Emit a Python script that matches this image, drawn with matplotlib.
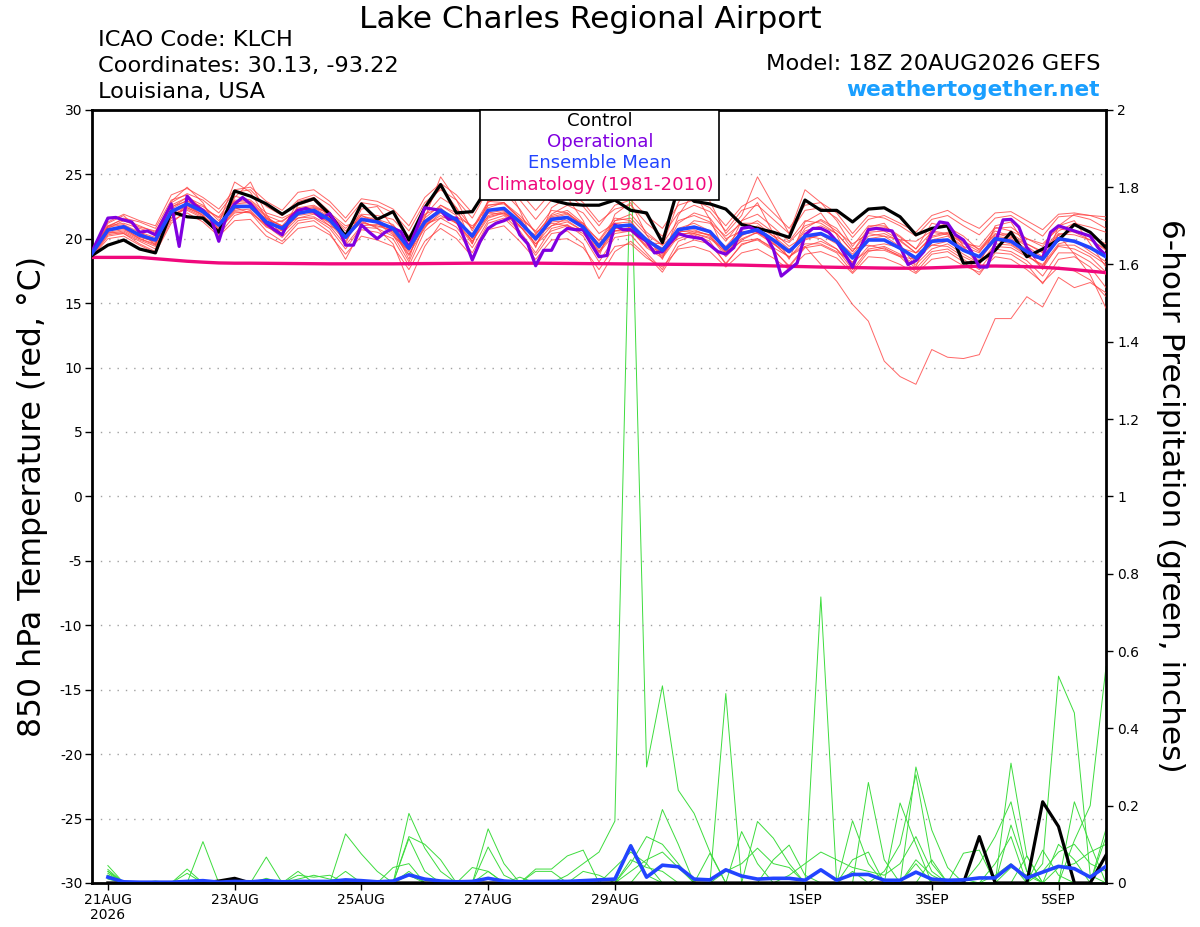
import numpy as np
import matplotlib
matplotlib.use("Agg")
import matplotlib.pyplot as plt
from matplotlib.patches import Rectangle

plt.rcParams['font.family'] = ['DejaVu Sans']

# ---------------- data ----------------
# 6-hourly steps from 18Z 20AUG2026 (step 0) to 18Z 05SEP2026 (step 64)
steps6 = np.arange(65)
steps3 = np.arange(129) / 2.0       # operational run, 3-hourly
psteps = np.arange(1, 65)           # 6-hour precipitation, ending at steps 1..64

control_t = [18.7, 19.5, 19.9, 19.2, 18.9, 22.1, 21.7, 21.6, 20.5, 23.7, 23.3, 22.7, 21.9, 22.7, 23.1, 21.9,
             20.2, 22.7, 21.5, 22.1, 19.9, 22.4, 24.2, 22.0, 22.1, 24.0, 24.5, 23.5, 23.6, 23.0, 22.7, 22.6,
             22.6, 23.0, 22.2, 22.0, 19.7, 24.0, 22.9, 22.7, 22.3, 21.1, 20.8, 20.5, 20.1, 23.0, 22.2, 22.2,
             21.3, 22.3, 22.4, 21.7, 20.3, 20.8, 21.0, 18.1, 18.2, 19.1, 20.5, 18.6, 19.2, 19.9, 21.1, 20.5,
             19.3]

mean_t = [18.86, 20.67, 20.93, 20.28, 19.9, 22.1, 22.7, 22.1, 21.06, 22.5, 22.5, 21.3, 20.8, 21.97, 22.2, 21.45,
          20.1, 21.5, 21.3, 20.8, 19.25, 21.3, 22.2, 21.45, 20.2, 22.2, 22.35, 21.3, 20.0, 21.5, 21.65, 20.9,
          19.4, 20.95, 21.06, 19.9, 19.1, 20.7, 20.9, 20.55, 19.2, 20.4, 20.7, 19.9, 19.0, 20.2, 20.4, 19.8,
          18.5, 19.9, 19.9, 19.26, 18.5, 19.8, 19.9, 19.1, 18.6, 20.0, 19.8, 19.0, 18.4, 20.0, 19.8, 19.3,
          18.6]

oper_t = [19.0, 20.3, 21.6, 21.65, 21.45, 21.3, 20.5, 20.6, 20.3, 21.5, 22.7, 19.4, 23.3, 22.6, 22.2, 21.6,
          19.8, 21.8, 22.7, 23.2, 22.7, 21.95, 21.2, 20.7, 20.3, 21.6, 22.2, 22.35, 22.1, 21.6, 21.95, 21.0,
          19.5, 19.5, 21.07, 20.5, 20.0, 20.5, 20.8, 20.55, 19.3, 20.8, 22.4, 22.3, 22.2, 21.5, 21.6, 20.0,
          18.35, 19.8, 20.8, 21.2, 21.4, 21.7, 20.3, 19.6, 17.9, 19.1, 19.1, 20.3, 20.8, 20.7, 20.7, 19.6,
          18.6, 18.7, 21.07, 20.7, 20.7, 20.2, 19.8, 18.9, 19.0, 19.7, 20.4, 20.2, 20.1, 20.0, 19.5, 19.0,
          18.8, 19.3, 20.8, 20.9, 20.6, 20.3, 19.2, 17.1, 17.6, 18.1, 20.3, 20.8, 20.8, 20.5, 19.8, 18.8,
          17.8, 19.3, 20.7, 20.8, 20.7, 20.6, 19.4, 18.0, 18.3, 19.0, 20.4, 21.3, 21.2, 20.3, 19.9, 19.0,
          17.8, 17.8, 19.65, 21.46, 21.5, 20.9, 19.3, 18.6, 18.5, 20.5, 21.0, 20.8, 20.6, 20.4, 20.2, 19.3,
          18.7]

clim_t = [18.55, 18.55, 18.55, 18.55, 18.45, 18.35, 18.25, 18.18, 18.12, 18.1, 18.1, 18.09, 18.08, 18.07, 18.06, 18.05,
          18.05, 18.05, 18.05, 18.05, 18.06, 18.07, 18.08, 18.09, 18.1, 18.1, 18.1, 18.1, 18.1, 18.09, 18.08, 18.07,
          18.06, 18.05, 18.04, 18.03, 18.02, 18.01, 18.0, 17.99, 17.97, 17.95, 17.92, 17.89, 17.86, 17.83, 17.8, 17.78,
          17.76, 17.74, 17.72, 17.71, 17.71, 17.74, 17.78, 17.83, 17.87, 17.88, 17.86, 17.83, 17.78, 17.7, 17.6, 17.48,
          17.37]

members_t = [
    [19.0, 21.0, 21.5, 21.0, 20.5, 22.8, 23.5, 23.0, 22.0, 23.6, 23.8, 22.5, 21.8, 23.0, 23.4, 22.6,
     21.3, 22.8, 22.6, 22.0, 20.6, 22.8, 23.8, 23.0, 21.6, 23.8, 24.2, 23.0, 21.5, 23.0, 23.4, 22.5,
     21.0, 22.6, 23.0, 21.8, 20.8, 22.6, 23.0, 22.4, 21.0, 22.5, 23.2, 22.0, 20.8, 22.6, 22.8, 22.0,
     20.4, 21.8, 21.6, 21.0, 20.2, 21.5, 21.8, 21.0, 20.3, 21.6, 21.8, 21.0, 20.2, 21.7, 21.8, 21.5, 20.8],
    [18.6, 20.2, 20.4, 19.6, 19.0, 21.4, 22.0, 21.3, 20.2, 21.4, 21.5, 20.2, 19.6, 20.8, 21.0, 20.3,
     18.8, 20.2, 19.9, 19.4, 17.6, 19.8, 20.8, 20.0, 18.6, 20.7, 21.0, 19.8, 18.4, 19.9, 20.0, 19.3,
     17.6, 19.4, 19.6, 18.5, 17.8, 19.2, 19.4, 19.0, 17.8, 18.9, 19.2, 18.5, 17.6, 18.8, 19.0, 18.5,
     17.3, 18.6, 18.5, 18.0, 17.3, 18.4, 18.6, 17.9, 17.4, 18.6, 18.4, 17.6, 16.6, 17.8, 17.5, 16.8, 15.5],
    [18.8, 21.2, 21.8, 20.6, 19.5, 22.9, 24.0, 22.8, 20.6, 23.2, 24.4, 21.9, 20.2, 22.6, 23.0, 21.6,
     19.6, 22.3, 22.5, 20.9, 18.4, 22.2, 24.0, 22.4, 19.6, 23.0, 24.6, 22.2, 19.3, 22.4, 23.2, 21.4,
     18.6, 21.9, 22.8, 20.3, 18.4, 21.8, 23.6, 21.5, 18.8, 21.4, 22.8, 20.4, 18.4, 21.3, 22.0, 20.3,
     17.8, 20.9, 21.2, 19.6, 17.8, 20.8, 21.2, 19.4, 17.9, 21.0, 21.3, 19.3, 17.6, 21.0, 21.4, 19.6, 17.8],
    [18.9, 20.5, 20.7, 20.1, 19.8, 21.8, 22.4, 21.9, 21.2, 22.2, 22.3, 21.6, 21.0, 21.6, 21.9, 21.3,
     20.3, 21.2, 21.0, 20.6, 19.8, 21.0, 21.8, 21.2, 20.4, 21.7, 22.0, 21.2, 20.2, 21.0, 21.3, 20.6,
     19.6, 20.6, 20.8, 19.8, 19.3, 20.4, 20.4, 20.0, 19.0, 19.8, 20.0, 19.3, 18.6, 19.4, 18.0, 16.7,
     14.9, 13.6, 10.5, 9.3, 8.7, 11.4, 10.8, 10.7, 11.0, 13.8, 13.8, 15.5, 14.7, 17.0, 16.2, 16.6, 15.8],
    [19.1, 21.0, 21.2, 20.8, 20.4, 22.5, 22.9, 22.5, 21.6, 22.9, 22.8, 21.5, 21.0, 22.4, 22.6, 21.9,
     20.6, 21.8, 21.4, 20.6, 18.8, 20.8, 22.6, 22.0, 20.8, 22.9, 22.8, 21.6, 20.6, 22.2, 22.0, 21.0,
     19.9, 21.6, 21.4, 19.6, 18.6, 20.4, 21.4, 21.2, 19.8, 21.4, 21.9, 20.9, 19.8, 21.4, 21.2, 20.4,
     19.0, 20.8, 20.9, 20.1, 19.2, 20.5, 20.3, 19.4, 18.9, 20.8, 20.9, 20.0, 19.4, 21.0, 21.9, 21.8, 21.7],
    [18.7, 20.4, 20.6, 20.0, 19.6, 21.9, 22.3, 21.7, 20.7, 22.0, 22.1, 20.9, 20.4, 21.6, 21.7, 21.0,
     19.5, 21.0, 21.1, 20.9, 19.6, 21.8, 23.2, 22.4, 20.8, 22.6, 22.8, 21.8, 20.5, 21.2, 21.0, 20.4,
     18.9, 20.4, 20.6, 19.5, 18.9, 21.2, 22.0, 21.6, 20.0, 20.6, 20.4, 19.6, 18.9, 20.8, 21.5, 20.8,
     19.2, 19.5, 19.2, 18.7, 18.0, 19.2, 19.6, 18.8, 18.1, 19.4, 19.3, 18.6, 18.0, 19.6, 19.9, 19.0, 18.2],
    [18.8, 20.9, 21.1, 20.5, 20.1, 22.4, 23.2, 22.6, 21.4, 23.0, 22.9, 21.8, 21.3, 22.3, 22.5, 21.9,
     20.8, 21.9, 21.8, 21.5, 20.2, 21.9, 22.4, 21.3, 19.8, 21.6, 22.0, 21.0, 19.6, 21.0, 21.6, 21.2,
     19.8, 21.4, 21.6, 20.3, 19.5, 20.6, 20.5, 20.3, 19.4, 20.8, 21.4, 20.5, 19.4, 20.2, 20.0, 19.2,
     18.0, 19.4, 19.6, 19.3, 18.9, 20.2, 20.5, 19.8, 19.2, 20.6, 20.2, 19.4, 18.6, 20.3, 20.6, 20.2, 19.6],
    [18.9, 20.6, 20.8, 20.2, 19.7, 22.3, 23.0, 22.0, 20.9, 22.6, 22.6, 21.0, 20.6, 21.8, 22.0, 21.2,
     19.8, 21.6, 21.6, 20.4, 18.7, 21.4, 22.3, 21.2, 19.6, 22.4, 22.8, 21.5, 19.8, 21.8, 22.2, 21.2,
     19.0, 20.8, 20.7, 19.3, 18.5, 20.2, 20.6, 20.3, 18.8, 20.2, 21.0, 20.2, 19.2, 19.9, 20.3, 19.9,
     18.8, 20.2, 20.4, 19.8, 18.9, 19.5, 19.4, 18.6, 18.0, 19.6, 19.5, 18.7, 17.9, 19.4, 19.2, 18.6, 17.4],
    [19.0, 20.8, 21.4, 20.9, 20.6, 22.6, 23.2, 22.3, 21.2, 24.4, 23.6, 21.6, 20.6, 22.9, 23.2, 22.1,
     20.0, 21.6, 21.2, 20.5, 19.0, 21.6, 24.8, 23.0, 20.6, 22.8, 23.6, 22.3, 20.4, 21.7, 22.0, 21.1,
     19.2, 21.4, 21.9, 20.5, 19.5, 22.8, 24.6, 22.9, 20.4, 21.8, 24.8, 22.6, 20.4, 23.8, 22.8, 21.4,
     19.4, 21.0, 21.0, 20.2, 19.2, 21.2, 20.9, 20.2, 19.1, 20.4, 20.1, 19.6, 19.0, 20.6, 21.2, 20.9, 20.5],
    [18.7, 20.3, 20.5, 19.9, 19.4, 21.6, 22.4, 21.8, 20.8, 22.1, 22.0, 20.6, 19.8, 21.2, 21.4, 20.5,
     18.4, 20.7, 20.5, 20.0, 17.9, 20.6, 21.6, 20.9, 19.3, 21.4, 21.8, 20.6, 18.9, 20.8, 21.1, 20.2,
     18.2, 20.1, 20.3, 18.9, 17.6, 19.8, 20.3, 19.8, 18.0, 19.6, 19.9, 19.1, 17.9, 19.4, 19.8, 19.2,
     17.6, 19.2, 19.4, 18.8, 17.7, 19.0, 19.2, 18.4, 17.6, 19.2, 19.0, 18.3, 17.1, 18.9, 18.9, 18.2, 17.2],
    [18.8, 20.9, 21.6, 21.3, 20.8, 23.0, 23.4, 22.2, 21.0, 22.4, 22.0, 21.1, 21.4, 22.2, 22.0, 21.0,
     20.4, 21.3, 20.9, 21.0, 20.0, 21.1, 21.6, 21.7, 21.0, 22.0, 21.9, 20.9, 20.3, 21.9, 22.6, 22.0,
     20.4, 21.2, 21.0, 19.7, 19.6, 21.4, 21.8, 21.3, 20.2, 21.2, 21.2, 20.2, 19.7, 21.0, 21.4, 20.6,
     19.6, 20.4, 20.2, 19.9, 19.8, 20.6, 20.4, 19.6, 19.4, 20.9, 20.6, 20.0, 19.6, 20.8, 20.5, 19.9, 19.2],
    [18.9, 20.5, 20.4, 19.8, 19.2, 21.6, 22.6, 22.3, 21.7, 23.3, 23.0, 22.0, 21.6, 22.2, 22.4, 22.0,
     21.0, 21.4, 20.8, 20.2, 19.1, 20.9, 22.0, 21.6, 20.0, 22.0, 22.2, 21.0, 19.6, 20.6, 21.0, 20.6,
     19.4, 20.6, 20.9, 20.0, 19.2, 20.0, 20.4, 20.1, 19.1, 20.0, 20.5, 19.6, 18.6, 19.6, 19.6, 19.0,
     18.2, 19.1, 19.1, 18.6, 18.4, 19.5, 19.8, 19.2, 18.6, 20.2, 20.0, 19.2, 18.5, 20.3, 18.8, 17.2, 14.6],
    [18.6, 20.0, 20.2, 19.5, 18.9, 21.2, 22.2, 21.6, 20.3, 21.8, 22.2, 21.0, 20.1, 21.4, 21.6, 20.8,
     19.2, 20.9, 20.8, 19.6, 16.6, 19.4, 21.2, 20.6, 18.9, 21.2, 21.6, 20.4, 18.7, 20.4, 20.6, 19.6,
     16.9, 19.0, 19.8, 18.7, 17.4, 19.4, 19.9, 19.6, 18.1, 19.5, 20.0, 19.2, 17.8, 19.3, 19.5, 18.9,
     17.4, 19.0, 19.3, 18.6, 17.4, 18.8, 19.0, 18.2, 17.2, 18.9, 18.8, 18.0, 16.5, 18.4, 18.6, 17.8, 16.2],
    [19.1, 21.3, 21.9, 21.4, 21.0, 23.4, 23.9, 23.2, 22.3, 23.8, 24.0, 22.9, 22.2, 23.6, 23.8, 22.9,
     21.6, 23.1, 22.9, 22.3, 21.0, 23.2, 24.3, 23.4, 22.0, 24.4, 24.9, 23.6, 22.2, 23.6, 23.8, 22.8,
     21.3, 22.3, 22.6, 21.2, 20.2, 22.0, 22.6, 22.1, 20.6, 22.2, 22.6, 21.5, 20.4, 22.2, 22.4, 21.6,
     20.1, 21.5, 21.8, 21.2, 20.5, 21.8, 22.2, 21.4, 20.8, 22.0, 22.1, 21.4, 20.7, 21.9, 22.0, 21.8, 21.4],
    [18.8, 20.6, 21.0, 20.4, 20.0, 22.0, 22.5, 22.0, 21.2, 22.7, 22.8, 21.7, 20.9, 22.2, 22.4, 21.7,
     20.3, 21.4, 21.5, 21.1, 19.4, 21.6, 22.6, 21.8, 20.0, 22.6, 22.7, 21.6, 19.9, 21.3, 21.4, 20.6,
     19.0, 20.6, 20.6, 19.4, 18.7, 20.5, 20.7, 20.2, 18.6, 19.9, 20.5, 19.8, 18.9, 20.6, 21.0, 20.4,
     19.0, 20.5, 20.6, 19.9, 18.9, 20.1, 20.4, 19.7, 19.0, 20.3, 20.4, 19.6, 18.9, 20.4, 20.3, 19.9, 19.1],
    [18.9, 20.8, 20.8, 20.0, 19.5, 22.2, 22.6, 21.8, 20.6, 22.3, 22.6, 21.2, 20.4, 21.9, 22.3, 21.6,
     20.2, 21.8, 21.2, 20.3, 18.2, 21.1, 22.1, 21.2, 19.8, 21.8, 22.1, 21.0, 19.4, 21.6, 21.9, 21.0,
     19.6, 21.2, 21.3, 20.0, 18.8, 20.8, 21.2, 20.6, 19.0, 20.3, 20.6, 19.7, 18.5, 20.0, 20.3, 19.6,
     18.1, 20.0, 20.2, 19.4, 18.2, 19.9, 20.2, 19.3, 18.3, 19.9, 19.6, 18.8, 17.7, 19.5, 19.5, 18.8, 18.0],
]

control_p = [0, 0, 0, 0, 0, 0, 0, 0.005, 0.012, 0, 0, 0, 0, 0, 0, 0,
             0, 0, 0, 0, 0, 0, 0, 0, 0, 0, 0, 0, 0, 0, 0, 0,
             0, 0, 0, 0, 0, 0, 0, 0, 0, 0, 0, 0, 0, 0, 0, 0,
             0, 0, 0, 0, 0, 0, 0, 0.12, 0, 0, 0, 0.21, 0.146, 0, 0, 0.072]

mean_p = [0.015, 0.003, 0.002, 0.002, 0.002, 0.004, 0.006, 0.002, 0.004, 0.003, 0.006, 0.003, 0.004, 0.004, 0.004, 0.008,
          0.006, 0.003, 0.005, 0.021, 0.01, 0.005, 0.003, 0.004, 0.012, 0.005, 0.003, 0.004, 0.004, 0.004, 0.006, 0.008,
          0.01, 0.096, 0.015, 0.046, 0.042, 0.01, 0.008, 0.034, 0.018, 0.01, 0.012, 0.012, 0.007, 0.034, 0.007, 0.022,
          0.022, 0.007, 0.007, 0.028, 0.01, 0.007, 0.008, 0.013, 0.013, 0.046, 0.013, 0.028, 0.043, 0.037, 0.015, 0.043]

members_p = [
    [0.02, 0, 0, 0, 0, 0, 0, 0, 0, 0, 0, 0, 0, 0, 0, 0,
     0, 0, 0, 0.18, 0.09, 0.03, 0, 0, 0, 0, 0, 0, 0, 0.02, 0.05, 0.08,
     0.16, 1.9, 0.30, 0.51, 0.24, 0.18, 0.08, 0, 0, 0, 0, 0, 0, 0, 0, 0.03,
     0, 0, 0, 0.05, 0, 0, 0, 0, 0, 0.31, 0.07, 0, 0, 0, 0, 0],
    [0.03, 0, 0, 0, 0, 0, 0.107, 0, 0, 0, 0, 0, 0, 0, 0, 0.127,
     0.075, 0.03, 0, 0, 0, 0, 0, 0, 0.14, 0.05, 0, 0, 0, 0, 0, 0,
     0, 0, 0.05, 0.19, 0.10, 0, 0, 0, 0, 0, 0, 0, 0, 0.74, 0, 0,
     0, 0, 0.207, 0.10, 0, 0, 0, 0.05, 0.12, 0.21, 0.03, 0, 0, 0.21, 0.10, 0],
    [0.045, 0, 0, 0, 0, 0, 0, 0, 0, 0, 0.067, 0, 0, 0, 0, 0,
     0, 0, 0, 0.12, 0.10, 0.06, 0, 0, 0, 0, 0, 0.036, 0.036, 0.07, 0.085, 0,
     0, 0, 0, 0, 0, 0, 0, 0.49, 0, 0, 0, 0, 0, 0, 0, 0,
     0, 0, 0, 0.30, 0.137, 0.04, 0, 0, 0, 0, 0, 0.05, 0.535, 0.44, 0.02, 0],
    [0.035, 0, 0, 0, 0, 0.036, 0, 0, 0, 0, 0, 0, 0.03, 0, 0, 0,
     0, 0, 0, 0.115, 0.03, 0, 0, 0, 0.093, 0.02, 0, 0, 0, 0, 0, 0,
     0, 0.10, 0.02, 0, 0, 0, 0, 0, 0, 0.159, 0.116, 0.05, 0, 0, 0, 0,
     0.26, 0.06, 0, 0, 0, 0, 0.077, 0.085, 0, 0.15, 0.03, 0, 0, 0.11, 0.20, 0.56],
    [0.025, 0, 0, 0, 0, 0.025, 0, 0, 0, 0, 0.012, 0, 0, 0, 0, 0.03,
     0, 0, 0.04, 0.05, 0, 0, 0, 0.04, 0.03, 0, 0, 0.03, 0.03, 0, 0, 0,
     0.04, 0.08, 0.05, 0, 0, 0, 0, 0, 0.133, 0.05, 0, 0, 0, 0, 0, 0.161,
     0.05, 0, 0, 0, 0.06, 0, 0, 0, 0.05, 0.12, 0, 0.085, 0.02, 0, 0, 0.12],
    [0.02, 0, 0, 0, 0, 0, 0, 0, 0, 0, 0, 0, 0.02, 0.015, 0.02, 0,
     0, 0, 0, 0.03, 0, 0, 0, 0, 0, 0, 0.015, 0, 0, 0, 0, 0,
     0, 0.05, 0.12, 0.10, 0.05, 0, 0.077, 0, 0, 0, 0.06, 0.098, 0.02, 0, 0, 0,
     0, 0.03, 0.10, 0.28, 0.05, 0, 0, 0.12, 0, 0, 0.07, 0, 0.10, 0.06, 0, 0.14],
    [0.03, 0, 0, 0.005, 0, 0, 0, 0, 0, 0, 0, 0, 0.01, 0.02, 0.01, 0,
     0, 0, 0, 0.02, 0, 0, 0, 0, 0.03, 0, 0, 0, 0, 0, 0.03, 0.02,
     0, 0.03, 0.06, 0.08, 0.04, 0, 0, 0.03, 0.05, 0.09, 0.05, 0.04, 0, 0, 0, 0.06,
     0.08, 0, 0, 0.06, 0.02, 0, 0, 0, 0.02, 0.05, 0, 0.03, 0.08, 0.1, 0.05, 0.03],
    [0.01, 0, 0, 0, 0, 0, 0, 0, 0, 0, 0, 0, 0, 0, 0, 0,
     0, 0, 0, 0, 0, 0, 0, 0, 0, 0, 0, 0, 0, 0, 0, 0,
     0, 0.06, 0.04, 0.03, 0, 0, 0, 0, 0, 0, 0, 0.02, 0.05, 0.08, 0.06, 0.04,
     0.03, 0.02, 0.05, 0.12, 0.03, 0, 0.01, 0, 0, 0.04, 0.02, 0, 0.04, 0.05, 0.08, 0.1],
]

xtick_steps = [1, 9, 17, 25, 33, 45, 53, 61]
xtick_labels = ['21AUG\n2026', '23AUG', '25AUG', '27AUG', '29AUG', '1SEP', '3SEP', '5SEP']
temp_ticks = list(range(-30, 31, 5))
precip_ticks = [0, 0.2, 0.4, 0.6, 0.8, 1, 1.2, 1.4, 1.6, 1.8, 2]
precip_labels = ['0', '0.2', '0.4', '0.6', '0.8', '1', '1.2', '1.4', '1.6', '1.8', '2']

legend_entries = [('Control', '#000000'), ('Operational', '#8000e0'),
                  ('Ensemble Mean', '#2244ff'), ('Climatology (1981-2010)', '#f0087c')]

# ---------------- figure ----------------
fig = plt.figure(figsize=(12, 9.27), dpi=100)
ax = fig.add_axes([0.0767, 0.0475, 0.8450, 0.8340])
ax2 = ax.twinx()
ax.set_zorder(2)
ax2.set_zorder(1)
ax.patch.set_visible(False)

RED = '#ff4040'
GREEN = '#3ddc3d'
for m in members_t:
    ax.plot(steps6, m, color=RED, lw=0.7, alpha=0.8, zorder=2)
ax.plot(steps6, clim_t, color='#f0087c', lw=2.4, zorder=3)
ax.plot(steps6, control_t, color='black', lw=2.3, zorder=4)
ax.plot(steps3, oper_t, color='#8000e0', lw=2.3, zorder=5)
ax.plot(steps6, mean_t, color='#2244ff', lw=2.6, zorder=6)

for m in members_p:
    ax2.plot(psteps, m, color=GREEN, lw=0.7, zorder=2)
ax2.plot(psteps, control_p, color='black', lw=2.3, zorder=4)
ax2.plot(psteps, mean_p, color='#2244ff', lw=2.6, zorder=5)

ax.set_xlim(0, 64)
ax.set_ylim(-30, 30)
ax2.set_ylim(0, 2)

ax.set_yticks(temp_ticks)
ax.set_yticklabels([str(t) for t in temp_ticks], fontsize=10)
ax2.set_yticks(precip_ticks)
ax2.set_yticklabels(precip_labels, fontsize=10)
ax.set_xticks(xtick_steps)
ax.set_xticklabels(xtick_labels, fontsize=10, linespacing=1.1)

ax.yaxis.grid(True, linestyle=(0, (1, 5)), color='#a0a0a0', lw=1.0)
ax.tick_params(axis='both', direction='out', length=5, width=1, pad=2)
ax2.tick_params(axis='y', direction='out', length=5, width=1, pad=3)

for s in ax.spines.values():
    s.set_linewidth(2.0)
ax.spines['right'].set_visible(False)
for k in ('left', 'top', 'bottom'):
    ax2.spines[k].set_visible(False)
ax2.spines['right'].set_linewidth(2.0)

# legend box
ax.add_patch(Rectangle((0.3826, 0.884), 0.2357, 0.116, transform=ax.transAxes,
                       facecolor='white', edgecolor='black', lw=1.2, zorder=10, clip_on=False))
for (label, col), yy in zip(legend_entries, [0.9855, 0.9583, 0.9311, 0.9030]):
    ax.text(0.501, yy, label, color=col, fontsize=13.1, ha='center', va='center',
            transform=ax.transAxes, zorder=11)

# texts
fig.text(0.4917, 0.9795, 'Lake Charles Regional Airport', fontsize=22.5, ha='center', va='center')
fig.text(0.0817, 0.9570, 'ICAO Code: KLCH', fontsize=16.2, ha='left', va='center')
fig.text(0.0817, 0.9290, 'Coordinates: 30.13, -93.22', fontsize=16.2, ha='left', va='center')
fig.text(0.0817, 0.9010, 'Louisiana, USA', fontsize=16.2, ha='left', va='center')
fig.text(0.9167, 0.9310, 'Model: 18Z 20AUG2026 GEFS', fontsize=16.2, ha='right', va='center')
fig.text(0.9167, 0.9030, 'weathertogether.net', fontsize=15.7, fontweight='bold',
         color='#1a9fff', ha='right', va='center')
fig.text(0.0267, 0.465, '850 hPa Temperature (red, \u00b0C)', fontsize=22.7, rotation=90,
         ha='center', va='center')
fig.text(0.9750, 0.465, '6-hour Precipitation (green, inches)', fontsize=22.5, rotation=270,
         ha='center', va='center')

fig.savefig('out.png', dpi=100)
